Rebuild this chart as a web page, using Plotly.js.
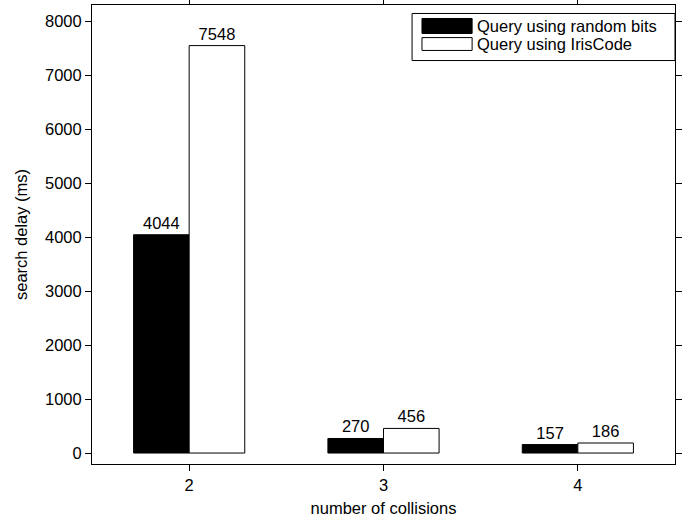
<!DOCTYPE html>
<html>
<head>
<meta charset="utf-8">
<script src="https://cdn.plot.ly/plotly-3.0.1.min.js"></script>
<style>
  html, body { margin: 0; padding: 0; background: #fff; }
  #chart { width: 693px; height: 520px; }
</style>
</head>
<body>
<div id="chart"></div>
<script>
// Number of collisions on the x axis
const collisions = [2, 3, 4];
// Search delay in milliseconds for each query type
const randomBitsDelay = [4044, 270, 157];
const irisCodeDelay = [7548, 456, 186];
const seriesNames = ['Query using random bits', 'Query using IrisCode'];

const FONT = 'Liberation Sans, Arial, Helvetica, sans-serif';
const FS = 16.5;

const traces = [
  {
    type: 'bar',
    name: seriesNames[0],
    x: collisions,
    y: randomBitsDelay,
    marker: { color: '#000000', line: { color: '#000000', width: 1 } },
    text: randomBitsDelay.map(String),
    textposition: 'outside',
    textfont: { family: FONT, size: FS, color: '#000' },
    cliponaxis: false,
    showlegend: false
  },
  {
    type: 'bar',
    name: seriesNames[1],
    x: collisions,
    y: irisCodeDelay,
    marker: { color: '#ffffff', line: { color: '#000000', width: 1 } },
    text: irisCodeDelay.map(String),
    textposition: 'outside',
    textfont: { family: FONT, size: FS, color: '#000' },
    cliponaxis: false,
    showlegend: false
  }
];

// Legend box drawn in paper coordinates
const shapes = [
  { type: 'rect', xref: 'paper', yref: 'paper', x0: 0.549, x1: 1.0, y0: 0.879, y1: 0.9815,
    line: { color: '#000', width: 1 }, fillcolor: '#fff' },
  { type: 'rect', xref: 'paper', yref: 'paper', x0: 0.566, x1: 0.652, y0: 0.938, y1: 0.9706,
    line: { color: '#000', width: 1 }, fillcolor: '#000' },
  { type: 'rect', xref: 'paper', yref: 'paper', x0: 0.566, x1: 0.652, y0: 0.901, y1: 0.929,
    line: { color: '#000', width: 1 }, fillcolor: '#fff' }
];

const annotations = [
  { xref: 'paper', yref: 'paper', x: 0.657, y: 0.954, xanchor: 'left', yanchor: 'middle',
    text: seriesNames[0], showarrow: false, font: { family: FONT, size: FS, color: '#000' } },
  { xref: 'paper', yref: 'paper', x: 0.657, y: 0.915, xanchor: 'left', yanchor: 'middle',
    text: seriesNames[1], showarrow: false, font: { family: FONT, size: FS, color: '#000' } }
];

const layout = {
  width: 693,
  height: 520,
  margin: { l: 92, r: 18, t: 4.5, b: 56, pad: 0 },
  paper_bgcolor: '#fff',
  plot_bgcolor: '#fff',
  font: { family: FONT, size: FS, color: '#000' },
  barmode: 'group',
  bargap: 0.428,
  bargroupgap: 0,
  xaxis: {
    range: [1.5, 4.5],
    tickvals: collisions,
    ticktext: collisions.map(String),
    ticks: 'outside',
    ticklen: 6,
    tickcolor: '#000',
    showline: true,
    linecolor: '#000',
    linewidth: 1,
    mirror: 'allticks',
    showgrid: false,
    zeroline: false,
    tickfont: { family: FONT, size: FS, color: '#000' },
    title: { text: 'number of collisions', font: { family: FONT, size: FS, color: '#000' }, standoff: 9 }
  },
  yaxis: {
    range: [-203, 8300],
    tickvals: [0, 1000, 2000, 3000, 4000, 5000, 6000, 7000, 8000],
    ticks: 'outside',
    ticklen: 6,
    tickcolor: '#000',
    showline: true,
    linecolor: '#000',
    linewidth: 1,
    mirror: 'allticks',
    showgrid: false,
    zeroline: false,
    tickfont: { family: FONT, size: FS, color: '#000' },
    title: { text: 'search delay (ms)', font: { family: FONT, size: FS, color: '#000' }, standoff: 13 }
  },
  shapes: shapes,
  annotations: annotations
};

Plotly.newPlot('chart', traces, layout, { staticPlot: true, displayModeBar: false });
</script>
</body>
</html>
